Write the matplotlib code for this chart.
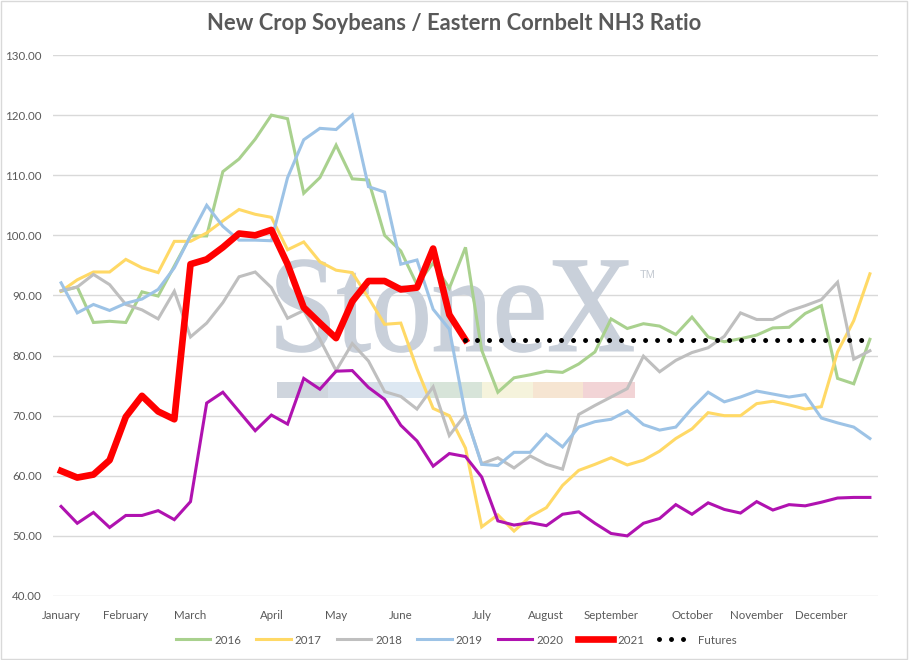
import numpy as np
import matplotlib
matplotlib.use("Agg")
import matplotlib.pyplot as plt
from matplotlib.textpath import TextPath
from matplotlib.patches import PathPatch, Rectangle
from matplotlib.font_manager import FontProperties
import matplotlib.transforms as mtransforms

# weekly points, Jan .. Dec (51 weeks)
month_labels = ["January", "February", "March", "April", "May", "June", "July",
                "August", "September", "October", "November", "December"]
month_ticks = [0, 4, 8, 13, 17, 21, 26, 30, 34, 39, 43, 47]

y2016 = [90.7, 91.4, 85.5, 85.7, 85.5, 90.6, 89.9, 94.9, 99.9, 99.9, 110.6, 112.7, 116.0,
         120.0, 119.4, 107.0, 109.6, 115.0, 109.4, 109.2, 100.0, 97.4, 91.8, 95.4, 91.2,
         98.0, 80.9, 73.9, 76.3, 76.8, 77.4, 77.2, 78.6, 80.6, 86.1, 84.5, 85.3, 84.9,
         83.5, 86.4, 83.1, 82.3, 82.8, 83.4, 84.6, 84.7, 87.0, 88.3, 76.2, 75.3, 82.7]
y2017 = [90.7, 92.6, 93.9, 93.9, 96.0, 94.6, 93.8, 99.0, 99.0, 100.4, 102.4, 104.3, 103.5,
         103.0, 97.6, 98.9, 95.6, 94.2, 93.8, 89.6, 85.2, 85.4, 77.8, 71.2, 70.0, 64.6,
         51.5, 53.5, 50.8, 53.2, 54.7, 58.4, 60.9, 61.9, 63.0, 61.8, 62.6, 64.1, 66.2,
         67.8, 70.5, 70.0, 70.0, 72.0, 72.4, 71.8, 71.1, 71.5, 80.6, 85.8, 93.6]
y2018 = [90.8, 91.4, 93.5, 91.8, 88.5, 87.6, 86.1, 90.7, 83.1, 85.4, 88.8, 93.1, 93.9,
         91.3, 86.2, 87.5, 82.7, 77.5, 82.0, 79.1, 74.0, 73.2, 71.1, 74.8, 66.7, 70.2,
         62.0, 63.0, 61.3, 63.3, 61.9, 61.1, 70.2, 71.7, 73.1, 74.5, 79.9, 77.3, 79.2,
         80.5, 81.3, 83.2, 87.1, 86.0, 86.0, 87.4, 88.3, 89.3, 92.2, 79.4, 80.8]
y2019 = [92.1, 87.1, 88.5, 87.5, 88.7, 89.4, 91.0, 94.6, 99.9, 105.0, 101.5, 99.2, 99.2,
         99.1, 109.6, 115.9, 117.8, 117.6, 120.0, 108.1, 107.2, 95.2, 95.9, 87.7, 84.4,
         70.2, 61.9, 61.7, 63.9, 63.9, 66.9, 64.8, 68.1, 69.0, 69.4, 70.8, 68.5, 67.6,
         68.1, 71.2, 73.9, 72.3, 73.1, 74.1, 73.6, 73.1, 73.5, 69.6, 68.8, 68.1, 66.2]
y2020 = [54.9, 52.1, 53.9, 51.4, 53.4, 53.4, 54.2, 52.7, 55.7, 72.1, 73.9, 70.7, 67.5,
         70.1, 68.6, 76.2, 74.4, 77.4, 77.5, 74.7, 72.7, 68.4, 65.8, 61.6, 63.7, 63.2,
         59.8, 52.5, 51.8, 52.2, 51.7, 53.6, 54.0, 52.1, 50.4, 50.0, 52.1, 52.9, 55.2,
         53.6, 55.5, 54.4, 53.8, 55.7, 54.3, 55.2, 55.0, 55.6, 56.3, 56.4, 56.4]
y2021 = [60.8, 59.7, 60.2, 62.6, 69.8, 73.3, 70.7, 69.4, 95.2, 96.0, 98.0, 100.3, 100.0,
         100.9, 95.2, 88.0, 85.4, 82.9, 89.0, 92.4, 92.4, 91.0, 91.3, 97.8, 86.8, 82.6]
futures_start = 25
futures = [82.6, 82.6, 82.6, 82.6, 82.6, 82.6, 82.6, 82.6, 82.6, 82.6, 82.6, 82.6, 82.6,
           82.6, 82.6, 82.6, 82.6, 82.6, 82.6, 82.6, 82.6, 82.6, 82.6, 82.6, 82.6, 82.6]

txt = "#595959"
plt.rcParams['font.family'] = ['Lato', 'DejaVu Sans']

fig = plt.figure(figsize=(9.09, 6.60), dpi=100)
ax = fig.add_axes([53/909, 1 - 596/660, 825/909, 541/660])

# StoneX watermark
tp = TextPath((0, 0), "StoneX", size=100, prop=FontProperties(family="Liberation Serif"))
bb = tp.get_extents()
sx = (356/909) / bb.width
sy = (92/660) / bb.height
tr = mtransforms.Affine2D().translate(-bb.x0, -bb.y0).scale(sx, sy).translate(277/909, 1 - 352/660)
ax.add_patch(PathPatch(tp, transform=tr + fig.transFigure, facecolor="#c9d0da",
                       edgecolor="#c9d0da", lw=1.2, zorder=1, clip_on=False))
fig.text(640/909, 1 - 275/660, "TM", fontsize=8, color="#c3c9d1", va="center",
         family="Liberation Sans")
bar_cols = ["#cfd5dd", "#d6dee8", "#dde8f2", "#d7e4d9", "#f5f3dc", "#f6e5d2", "#f2d4d6"]
bar_edges = [277, 328, 380, 430, 482, 533, 583, 635]
for k, c in enumerate(bar_cols):
    ax.add_patch(Rectangle((bar_edges[k]/909, 1 - 398/660), (bar_edges[k+1] - bar_edges[k])/909,
                           16/660, transform=fig.transFigure, facecolor=c, edgecolor="none",
                           zorder=1, clip_on=False))

series = [
    ("2016", y2016, "#a9d18e", 2.2),
    ("2017", y2017, "#ffd966", 2.2),
    ("2018", y2018, "#bfbfbf", 2.2),
    ("2019", y2019, "#9dc3e6", 2.2),
    ("2020", y2020, "#b012b0", 2.2),
    ("2021", y2021, "#ff0000", 4.8),
]
for name, vals, col, lw in series:
    ax.plot(np.arange(len(vals)), vals, color=col, lw=lw, label=name, zorder=3,
            solid_joinstyle="miter" if name != "2021" else "round")

fx = np.arange(futures_start, futures_start + len(futures))
ax.plot(fx, futures, color="black", lw=3.6, linestyle=(0, (0.001, 2.4)),
        dash_capstyle="round", label="Futures", zorder=4)

ax.set_xlim(-0.5, 50.5)
ax.set_ylim(40, 130)
ax.set_yticks(np.arange(40, 131, 10))
ax.yaxis.set_major_formatter(matplotlib.ticker.FormatStrFormatter("%.2f"))
ax.set_xticks(month_ticks)
ax.set_xticklabels(month_labels)
ax.tick_params(axis="both", length=0, labelsize=8.3, labelcolor=txt)
ax.tick_params(axis="x", pad=10)
ax.tick_params(axis="y", pad=8)
ax.grid(axis="y", color="#d9d9d9", lw=1)
ax.set_axisbelow(True)
for s in ax.spines.values():
    s.set_visible(False)

fig.text(0.5, 1 - 24/660, "New Crop Soybeans / Eastern Cornbelt NH3 Ratio", ha="center",
         va="center", fontsize=15.8, fontweight="bold", color=txt)

handles, labels = ax.get_legend_handles_labels()
leg = fig.legend(handles, labels, loc="center", bbox_to_anchor=(456/909, 1 - 640/660), ncol=7,
                 frameon=False, fontsize=8.3, handlelength=3.0, handletextpad=0.35,
                 columnspacing=1.3, labelcolor=txt)

fig.patches.append(Rectangle((0.001, 0.001), 0.997, 0.997, transform=fig.transFigure,
                             fill=False, edgecolor="#d9d9d9", lw=1))

fig.savefig("out.png", dpi=100, facecolor="white")
